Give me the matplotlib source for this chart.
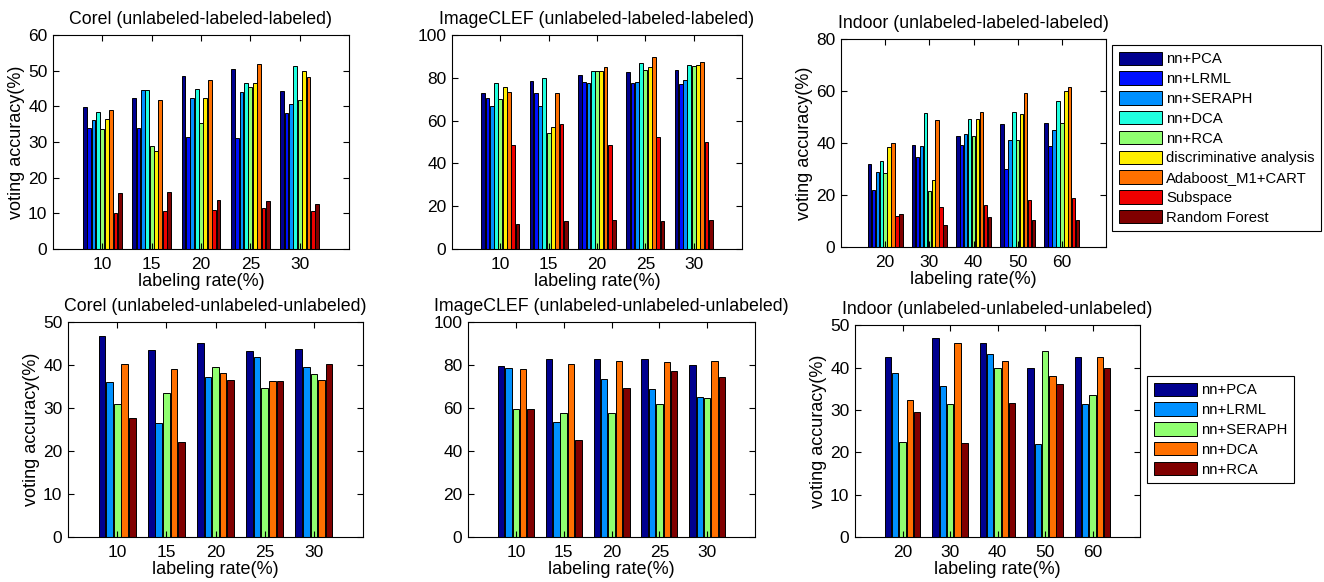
import numpy as np
import matplotlib.pyplot as plt

plt.rcParams['font.family'] = ['Liberation Sans', 'DejaVu Sans']

# data
rates_a = [10, 15, 20, 25, 30]
rates_b = [20, 30, 40, 50, 60]

methods9 = ['nn+PCA', 'nn+LRML', 'nn+SERAPH', 'nn+DCA', 'nn+RCA',
            'discriminative analysis', 'Adaboost_M1+CART', 'Subspace', 'Random Forest']
methods5 = ['nn+PCA', 'nn+LRML', 'nn+SERAPH', 'nn+DCA', 'nn+RCA']

colors9 = ['#00008f', '#0010ff', '#0090ff', '#20ffe0', '#90ff70',
           '#ffee00', '#ff7000', '#ee0000', '#800000']
colors5 = ['#00008f', '#0090ff', '#90ff70', '#ff7000', '#800000']

# rows = methods, cols = labeling rates
corel_lll = [
    [39.9, 42.2, 48.4, 50.4, 44.4],
    [33.9, 33.9, 31.3, 31.1, 38.0],
    [36.2, 44.5, 42.3, 44.1, 40.6],
    [38.4, 44.5, 44.8, 46.5, 51.4],
    [33.7, 28.9, 35.4, 45.3, 41.8],
    [36.5, 27.5, 42.3, 46.5, 49.9],
    [39.0, 41.8, 47.3, 52.0, 48.3],
    [10.1, 10.7, 11.0, 11.5, 10.7],
    [15.8, 15.9, 13.8, 13.5, 12.7],
]
clef_lll = [
    [73.1, 78.4, 81.3, 82.7, 83.5],
    [70.6, 73.1, 77.8, 77.7, 77.3],
    [67.0, 67.0, 77.5, 78.0, 79.0],
    [77.5, 79.9, 83.3, 87.1, 85.9],
    [70.3, 54.1, 83.3, 83.7, 85.6],
    [75.9, 56.8, 83.3, 85.1, 86.1],
    [73.4, 72.8, 85.1, 89.6, 87.5],
    [48.4, 58.6, 48.4, 52.3, 50.1],
    [11.5, 13.0, 13.5, 13.0, 13.6],
]
indoor_lll = [
    [31.9, 39.4, 42.6, 47.2, 47.6],
    [22.1, 34.5, 39.2, 30.1, 38.8],
    [28.9, 38.7, 43.5, 41.0, 45.1],
    [33.2, 51.6, 49.3, 52.1, 56.3],
    [28.3, 21.6, 42.6, 41.0, 47.6],
    [38.3, 25.9, 49.3, 51.2, 60.1],
    [40.1, 48.8, 51.8, 59.2, 61.5],
    [12.0, 15.2, 16.0, 18.0, 18.8],
    [12.6, 8.6, 11.7, 10.2, 10.2],
]
corel_uuu = [
    [46.7, 43.4, 45.2, 43.2, 43.8],
    [36.0, 26.4, 37.1, 41.9, 39.5],
    [31.0, 33.5, 39.5, 34.6, 37.8],
    [40.2, 39.0, 38.1, 36.2, 36.4],
    [27.7, 22.0, 36.4, 36.2, 40.2],
]
clef_uuu = [
    [79.6, 83.0, 82.7, 82.7, 79.8],
    [78.8, 53.7, 73.7, 68.9, 65.3],
    [59.7, 57.5, 57.9, 61.7, 64.5],
    [78.1, 80.6, 82.0, 81.5, 82.0],
    [59.7, 45.1, 69.5, 77.0, 74.2],
]
indoor_uuu = [
    [42.4, 47.0, 45.7, 39.9, 42.4],
    [38.6, 35.7, 43.3, 22.0, 31.3],
    [22.4, 31.3, 39.9, 43.9, 33.6],
    [32.4, 45.7, 41.6, 37.9, 42.4],
    [29.4, 22.1, 31.6, 36.0, 39.9],
]


def grouped(ax, vals, cols, names, rates, ymax, ystep, title, ylabel=True):
    n = len(vals)
    gw = min(0.8, n / (n + 1.5))
    step = gw / n
    x = np.arange(1, len(rates) + 1)
    bars = []
    for i in range(n):
        b = ax.bar(x - gw / 2 + step * (i + 0.5), vals[i], width=step * 0.88,
                   color=cols[i], edgecolor='black', linewidth=0.7, label=names[i])
        bars.append(b)
    ax.set_xlim(0, len(rates) + 1)
    ax.set_xticks(x)
    ax.set_xticklabels([str(r) for r in rates])
    ax.set_ylim(0, ymax)
    ax.set_yticks(np.arange(0, ymax + 1, ystep))
    ax.tick_params(direction='in', top=True, right=True, length=4, width=0.8,
                   labelsize=12.5)
    ax.tick_params(axis='x', pad=5.5)
    ax.tick_params(axis='y', pad=4)
    for s in ax.spines.values():
        s.set_linewidth(0.8)
    ax.set_title(title, fontsize=12.8, pad=8)
    ax.set_xlabel('labeling rate(%)', fontsize=13, labelpad=1)
    if ylabel:
        ax.set_ylabel('voting accuracy(%)', fontsize=13, labelpad=2)
    return bars


fig = plt.figure(figsize=(13.24, 5.82), dpi=100)

ax1 = fig.add_axes([0.040, 0.5722, 0.2236, 0.3677])
ax2 = fig.add_axes([0.3414, 0.5722, 0.2190, 0.3677])
ax3 = fig.add_axes([0.6352, 0.5756, 0.2002, 0.3574])
ax4 = fig.add_axes([0.0514, 0.0773, 0.2228, 0.3694])
ax5 = fig.add_axes([0.3535, 0.0773, 0.2168, 0.3694])
ax6 = fig.add_axes([0.6458, 0.0773, 0.2153, 0.3640])

top_bars = grouped(ax1, corel_lll, colors9, methods9, rates_a, 60, 10,
                   'Corel (unlabeled-labeled-labeled)')
grouped(ax2, clef_lll, colors9, methods9, rates_a, 100, 20,
        'ImageCLEF (unlabeled-labeled-labeled)', ylabel=False)
grouped(ax3, indoor_lll, colors9, methods9, rates_b, 80, 20,
        'Indoor (unlabeled-labeled-labeled)')
bot_bars = grouped(ax4, corel_uuu, colors5, methods5, rates_a, 50, 10,
                   'Corel (unlabeled-unlabeled-unlabeled)')
grouped(ax5, clef_uuu, colors5, methods5, rates_a, 100, 20,
        'ImageCLEF (unlabeled-unlabeled-unlabeled)', ylabel=False)
grouped(ax6, indoor_uuu, colors5, methods5, rates_b, 50, 10,
        'Indoor (unlabeled-unlabeled-unlabeled)')

leg_kw = dict(loc='upper left', fontsize=10.7, frameon=True, fancybox=False,
              edgecolor='black', framealpha=1, handlelength=2.9, handleheight=1.0,
              handletextpad=0.3, labelspacing=0.34, borderpad=0.45,
              borderaxespad=0)
l1 = fig.legend(top_bars, methods9, bbox_to_anchor=(1112 / 1324, 1 - 45 / 582), **leg_kw)
l2 = fig.legend(bot_bars, methods5, bbox_to_anchor=(1147 / 1324, 1 - 376 / 582), **leg_kw)
for l in (l1, l2):
    l.get_frame().set_linewidth(0.8)

fig.savefig('out.png', dpi=100)
